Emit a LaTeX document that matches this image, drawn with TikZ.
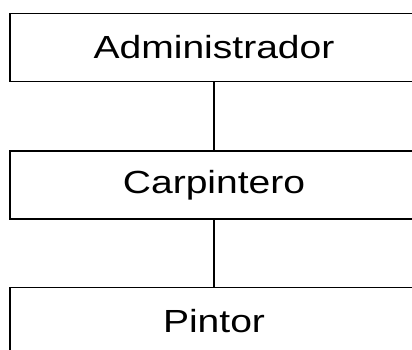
\documentclass[tikz,border=0pt]{standalone}
\usepackage{fontspec}
\newfontfamily\cajafont[FakeStretch=1.22]{Liberation Sans}
\usepackage{tikz}
\usetikzlibrary{positioning}

\tikzset{
  caja/.style={draw, line width=1.4pt, rectangle, minimum width=408pt,
               minimum height=68pt, inner sep=0pt, outer sep=0pt,
               font=\cajafont\fontsize{32pt}{36pt}\selectfont},
  enlace/.style={line width=1.4pt}
}

\begin{document}
\begin{tikzpicture}[x=1pt, y=-1pt]
            % 1. Marco
            \useasboundingbox (0,0) rectangle (412,350);
            \clip (0,0) rectangle (412,350);

            % 2. Cajas
            \node[caja] (admin) at (214,47.5) {Administrador};
            \node[caja] (carp) at (214,185) {Carpintero};
            \node[caja] (pintor) at (214,321.5) {Pintor};

            % 3. Enlaces
            \draw[enlace] (admin.south) -- (carp.north);
            \draw[enlace] (carp.south) -- (pintor.north);
        \end{tikzpicture}
\end{document}
